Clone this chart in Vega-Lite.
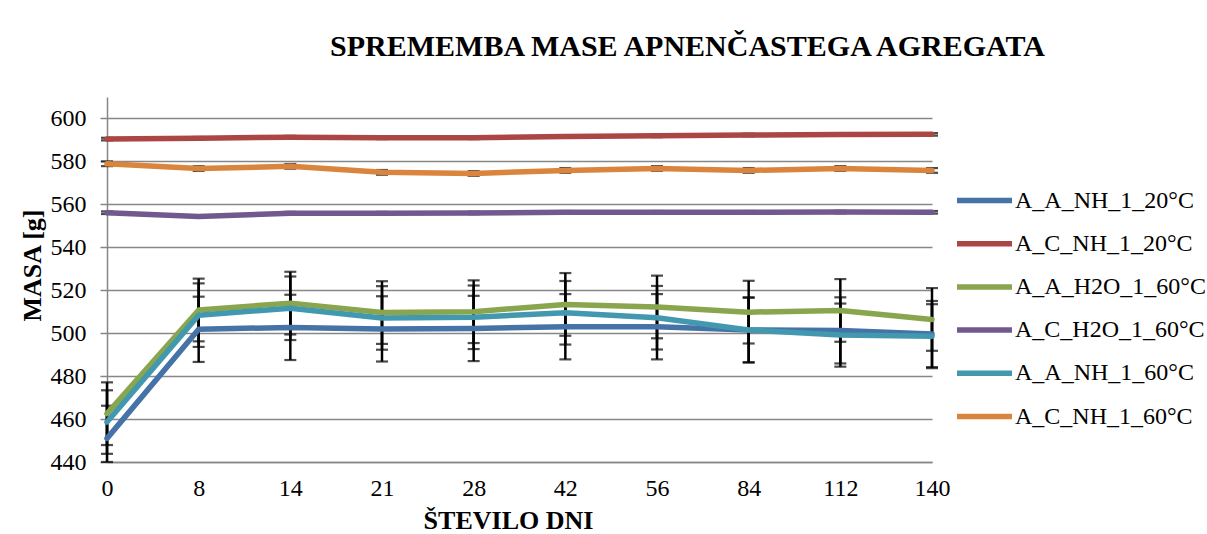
{
  "$schema": "https://vega.github.io/schema/vega-lite/v6.json",
  "autosize": {"type": "none"},
  "width": 825,
  "height": 365,
  "padding": {"left": 107, "top": 97, "right": 275, "bottom": 72},
  "background": "white",
  "title": {
    "text": "SPREMEMBA MASE APNENČASTEGA AGREGATA",
    "font": "Liberation Serif",
    "fontSize": 30,
    "fontWeight": "bold",
    "color": "black",
    "anchor": "middle",
    "frame": "group",
    "baseline": "alphabetic",
    "offset": 11,
    "dx": 168
  },
  "data": {
    "values": [
      {"day": "0", "series": "A_A_NH_1_20°C", "m": 451.0, "e": 15.2},
      {"day": "8", "series": "A_A_NH_1_20°C", "m": 501.8, "e": 15.2},
      {"day": "14", "series": "A_A_NH_1_20°C", "m": 502.7, "e": 15.2},
      {"day": "21", "series": "A_A_NH_1_20°C", "m": 502.0, "e": 15.2},
      {"day": "28", "series": "A_A_NH_1_20°C", "m": 502.2, "e": 15.2},
      {"day": "42", "series": "A_A_NH_1_20°C", "m": 503.0, "e": 15.2},
      {"day": "56", "series": "A_A_NH_1_20°C", "m": 503.0, "e": 15.2},
      {"day": "84", "series": "A_A_NH_1_20°C", "m": 501.5, "e": 15.2},
      {"day": "112", "series": "A_A_NH_1_20°C", "m": 501.3, "e": 15.4},
      {"day": "140", "series": "A_A_NH_1_20°C", "m": 499.6, "e": 15.4},

      {"day": "0", "series": "A_C_NH_1_20°C", "m": 590.4, "e": 0.6},
      {"day": "8", "series": "A_C_NH_1_20°C", "m": 590.8, "e": 0.6},
      {"day": "14", "series": "A_C_NH_1_20°C", "m": 591.3, "e": 0.6},
      {"day": "21", "series": "A_C_NH_1_20°C", "m": 591.0, "e": 0.6},
      {"day": "28", "series": "A_C_NH_1_20°C", "m": 591.0, "e": 0.6},
      {"day": "42", "series": "A_C_NH_1_20°C", "m": 591.6, "e": 0.6},
      {"day": "56", "series": "A_C_NH_1_20°C", "m": 591.9, "e": 0.6},
      {"day": "84", "series": "A_C_NH_1_20°C", "m": 592.3, "e": 0.6},
      {"day": "112", "series": "A_C_NH_1_20°C", "m": 592.5, "e": 0.6},
      {"day": "140", "series": "A_C_NH_1_20°C", "m": 592.6, "e": 0.6},

      {"day": "0", "series": "A_A_H2O_1_60°C", "m": 462.5, "e": 14.6},
      {"day": "8", "series": "A_A_H2O_1_60°C", "m": 510.8, "e": 14.6},
      {"day": "14", "series": "A_A_H2O_1_60°C", "m": 514.0, "e": 14.6},
      {"day": "21", "series": "A_A_H2O_1_60°C", "m": 509.6, "e": 14.6},
      {"day": "28", "series": "A_A_H2O_1_60°C", "m": 510.0, "e": 14.6},
      {"day": "42", "series": "A_A_H2O_1_60°C", "m": 513.4, "e": 14.6},
      {"day": "56", "series": "A_A_H2O_1_60°C", "m": 512.2, "e": 14.6},
      {"day": "84", "series": "A_A_H2O_1_60°C", "m": 509.8, "e": 14.6},
      {"day": "112", "series": "A_A_H2O_1_60°C", "m": 510.6, "e": 14.6},
      {"day": "140", "series": "A_A_H2O_1_60°C", "m": 506.4, "e": 14.6},

      {"day": "0", "series": "A_C_H2O_1_60°C", "m": 556.1, "e": 0.6},
      {"day": "8", "series": "A_C_H2O_1_60°C", "m": 554.3, "e": 0.6},
      {"day": "14", "series": "A_C_H2O_1_60°C", "m": 555.9, "e": 0.6},
      {"day": "21", "series": "A_C_H2O_1_60°C", "m": 555.9, "e": 0.6},
      {"day": "28", "series": "A_C_H2O_1_60°C", "m": 556.0, "e": 0.6},
      {"day": "42", "series": "A_C_H2O_1_60°C", "m": 556.3, "e": 0.6},
      {"day": "56", "series": "A_C_H2O_1_60°C", "m": 556.3, "e": 0.6},
      {"day": "84", "series": "A_C_H2O_1_60°C", "m": 556.3, "e": 0.6},
      {"day": "112", "series": "A_C_H2O_1_60°C", "m": 556.4, "e": 0.6},
      {"day": "140", "series": "A_C_H2O_1_60°C", "m": 556.3, "e": 0.6},

      {"day": "0", "series": "A_A_NH_1_60°C", "m": 458.6, "e": 14.8},
      {"day": "8", "series": "A_A_NH_1_60°C", "m": 508.4, "e": 14.8},
      {"day": "14", "series": "A_A_NH_1_60°C", "m": 511.6, "e": 14.8},
      {"day": "21", "series": "A_A_NH_1_60°C", "m": 507.1, "e": 14.8},
      {"day": "28", "series": "A_A_NH_1_60°C", "m": 507.4, "e": 14.8},
      {"day": "42", "series": "A_A_NH_1_60°C", "m": 509.5, "e": 14.8},
      {"day": "56", "series": "A_A_NH_1_60°C", "m": 507.2, "e": 14.8},
      {"day": "84", "series": "A_A_NH_1_60°C", "m": 501.5, "e": 15.0},
      {"day": "112", "series": "A_A_NH_1_60°C", "m": 499.1, "e": 14.7},
      {"day": "140", "series": "A_A_NH_1_60°C", "m": 498.6, "e": 14.9},

      {"day": "0", "series": "A_C_NH_1_60°C", "m": 578.9, "e": 1.1},
      {"day": "8", "series": "A_C_NH_1_60°C", "m": 576.7, "e": 1.1},
      {"day": "14", "series": "A_C_NH_1_60°C", "m": 577.7, "e": 1.1},
      {"day": "21", "series": "A_C_NH_1_60°C", "m": 574.9, "e": 1.1},
      {"day": "28", "series": "A_C_NH_1_60°C", "m": 574.4, "e": 1.1},
      {"day": "42", "series": "A_C_NH_1_60°C", "m": 575.8, "e": 1.1},
      {"day": "56", "series": "A_C_NH_1_60°C", "m": 576.7, "e": 1.1},
      {"day": "84", "series": "A_C_NH_1_60°C", "m": 575.8, "e": 1.1},
      {"day": "112", "series": "A_C_NH_1_60°C", "m": 576.7, "e": 1.1},
      {"day": "140", "series": "A_C_NH_1_60°C", "m": 575.8, "e": 1.1}
    ]
  },
  "encoding": {
    "x": {
      "field": "day",
      "type": "ordinal",
      "sort": ["0", "8", "14", "21", "28", "42", "56", "84", "112", "140"],
      "scale": {"type": "point", "padding": 0},
      "axis": {
        "title": "ŠTEVILO DNI",
        "titleFont": "Liberation Serif",
        "titleFontSize": 26,
        "titleFontWeight": "bold",
        "titleColor": "black",
        "titleBaseline": "alphabetic",
        "titleX": 401,
        "titleY": 66,
        "labelAngle": 0,
        "labelFont": "Liberation Serif",
        "labelFontSize": 24,
        "labelColor": "black",
        "labelPadding": 14,
        "ticks": false,
        "grid": false,
        "domainColor": "#878787",
        "domainWidth": 1.5
      }
    },
    "y": {
      "field": "m",
      "type": "quantitative",
      "scale": {"domain": [440, 610], "nice": false, "zero": false, "clamp": true},
      "axis": {
        "title": "MASA [g]",
        "titleFont": "Liberation Serif",
        "titleFontSize": 26,
        "titleFontWeight": "bold",
        "titleColor": "black",
        "titleAngle": -90,
        "titleAlign": "center",
        "titleBaseline": "alphabetic",
        "titleX": -67,
        "titleY": 168,
        "values": [440, 460, 480, 500, 520, 540, 560, 580, 600],
        "labelFont": "Liberation Serif",
        "labelFontSize": 24,
        "labelColor": "black",
        "labelPadding": 14,
        "tickSize": 7,
        "tickColor": "#878787",
        "tickWidth": 1.5,
        "grid": true,
        "gridColor": "#878787",
        "gridWidth": 1.5,
        "domainColor": "#878787",
        "domainWidth": 1.5
      }
    }
  },
  "layer": [
    {
      "mark": {
        "type": "errorbar",
        "ticks": {"size": 12, "thickness": 2.2, "color": "black"},
        "rule": {"strokeWidth": 2.5, "color": "black"}
      },
      "encoding": {
        "yError": {"field": "e"},
        "detail": {"field": "series", "type": "nominal"}
      }
    },
    {
      "mark": {"type": "line", "strokeWidth": 5.5, "strokeJoin": "round", "strokeCap": "round"},
      "encoding": {
        "color": {
          "field": "series",
          "type": "nominal",
          "scale": {
            "domain": ["A_A_NH_1_20°C", "A_C_NH_1_20°C", "A_A_H2O_1_60°C", "A_C_H2O_1_60°C", "A_A_NH_1_60°C", "A_C_NH_1_60°C"],
            "range": ["#4572A7", "#AA4643", "#89A54E", "#71588F", "#4198AF", "#DB843D"]
          },
          "legend": {
            "title": null,
            "orient": "none",
            "legendX": 861,
            "legendY": 87,
            "padding": 0,
            "symbolType": "M-2,0H2",
            "symbolSize": 756,
            "symbolStrokeWidth": 5.5,
            "labelFont": "Liberation Serif",
            "labelFontSize": 24,
            "labelColor": "black",
            "labelOffset": 14,
            "labelLimit": 400,
            "rowPadding": 14.2
          }
        }
      }
    }
  ],
  "config": {
    "view": {"stroke": null}
  }
}
